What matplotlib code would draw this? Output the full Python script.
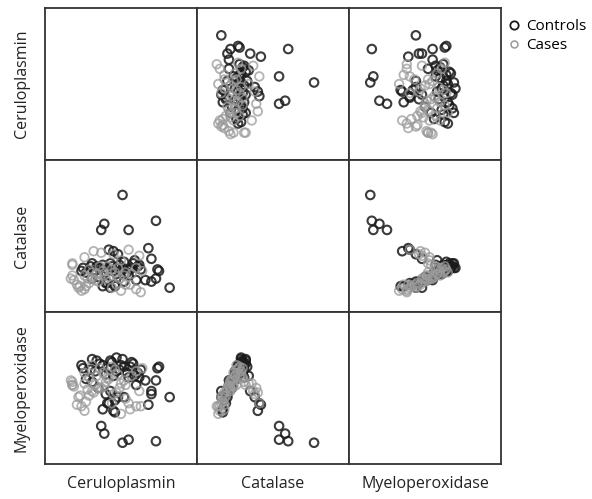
"""Scatter-plot matrix of three enzymes, controls vs cases."""

import matplotlib
matplotlib.use("Agg")
import matplotlib.pyplot as plt
from matplotlib.lines import Line2D

plt.rcParams["font.family"] = ["Open Sans", "DejaVu Sans"]

VARIABLES = ["Ceruloplasmin", "Catalase", "Myeloperoxidase"]

# Values (arbitrary units, 0-100 per variable)
cer_ctrl = [51, 73, 55, 39, 37, 82, 74, 75, 70, 68, 73, 70, 48, 45, 42, 59,
            62, 40, 38, 46, 25, 24, 27, 30, 31, 34, 36, 44, 51, 56, 49, 41,
            54, 61, 45, 38, 58, 47, 52, 40, 57, 43, 43, 41, 46, 52, 60, 66,
            31, 33, 50, 63, 35, 55, 47]
cat_ctrl = [77, 60, 54, 58, 54, 16, 28, 27, 35, 42, 22, 20, 38, 40, 41, 34,
            31, 19, 17, 18, 29, 27, 26, 30, 32, 30, 29, 30, 29, 28, 31, 28,
            26, 30, 27, 31, 32, 25, 33, 26, 29, 32, 16, 19, 17, 20, 21, 21,
            22, 27, 27, 28, 23, 24, 29]
mpo_ctrl = [14, 15, 16, 20, 25, 44, 63, 64, 48, 39, 55, 46, 44, 35, 40, 58,
            57, 46, 36, 42, 63, 65, 56, 62, 69, 68, 66, 67, 69, 64, 62, 63,
            60, 60, 58, 65, 66, 61, 64, 59, 67, 68, 48, 40, 34, 44, 52, 55,
            54, 61, 65, 62, 50, 57, 70]

cer_case = [55, 37, 32, 26, 18, 62, 50, 45, 18, 19, 27, 29, 31, 39, 44, 50,
            56, 63, 24, 22, 26, 21, 23, 18, 17, 34, 38, 42, 46, 29, 33, 48,
            52, 36, 40, 44, 26, 31, 57, 64, 60, 35, 41, 49, 28, 53, 60, 53,
            47]
cat_case = [41, 39, 40, 36, 32, 37, 34, 38, 31, 21, 17, 19, 22, 24, 16, 14,
            18, 13, 14, 16, 15, 18, 17, 24, 22, 25, 27, 23, 26, 28, 21, 29,
            24, 30, 22, 28, 24, 26, 25, 27, 29, 20, 30, 22, 22, 26, 15, 18,
            18]
mpo_case = [40, 50, 47, 53, 52, 48, 53, 46, 54, 51, 41, 45, 48, 51, 40, 33,
            36, 38, 38, 44, 35, 39, 45, 52, 55, 58, 60, 56, 62, 57, 52, 59,
            55, 63, 54, 64, 60, 65, 58, 63, 61, 50, 57, 50, 49, 52, 38, 43,
            47]

controls = [cer_ctrl, cat_ctrl, mpo_ctrl]
cases = [cer_case, cat_case, mpo_case]

W, H = 592, 499
fig = plt.figure(figsize=(W / 100, H / 100), dpi=100)

left_px, top_px, size_px = 45, 8, 152
frame_col = "#333333"

for row in range(3):
    for col in range(3):
        x0 = (left_px + col * size_px) / W
        y0 = 1 - (top_px + (row + 1) * size_px) / H
        ax = fig.add_axes([x0, y0, size_px / W, size_px / H])
        ax.set_xlim(0, 100)
        ax.set_ylim(0, 100)
        ax.set_xticks([])
        ax.set_yticks([])
        for spine in ax.spines.values():
            spine.set_color(frame_col)
            spine.set_linewidth(1.3)
        if row != col:
            ax.scatter(controls[col], controls[row], s=38, facecolors="none",
                       edgecolors="#1a1a1a", linewidths=1.5, alpha=0.85)
            ax.scatter(cases[col], cases[row], s=38, facecolors="none",
                       edgecolors="#9a9a9a", linewidths=1.3, alpha=0.75)
        if col == 0:
            fig.text(22 / W, 1 - (top_px + (row + 0.5) * size_px) / H,
                     VARIABLES[row], rotation=90, ha="center", va="center",
                     fontsize=11.5, color="#222222")
        if row == 2:
            fig.text((left_px + (col + 0.5) * size_px) / W, 1 - 484 / H,
                     VARIABLES[col], ha="center", va="center",
                     fontsize=11.5, color="#222222")

handles = [
    Line2D([], [], linestyle="none", marker="o", markersize=6,
           markerfacecolor="none", markeredgecolor="#1a1a1a",
           markeredgewidth=1.3, label="Controls"),
    Line2D([], [], linestyle="none", marker="o", markersize=5,
           markerfacecolor="none", markeredgecolor="#9a9a9a",
           markeredgewidth=1.1, label="Cases"),
]
fig.legend(handles=handles, loc="upper left", bbox_to_anchor=(499 / W, 1 - 13 / H),
           frameon=False, fontsize=11, handletextpad=0.15, labelspacing=0.25,
           borderaxespad=0, handlelength=1.2)

fig.savefig("out.png", dpi=100)
